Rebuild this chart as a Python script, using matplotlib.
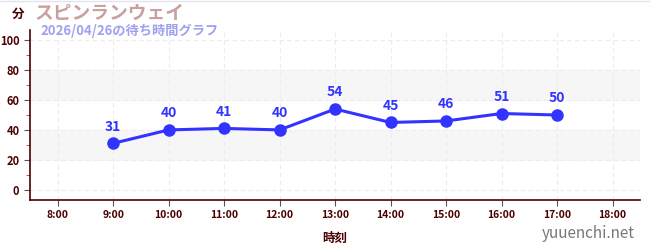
import matplotlib.pyplot as plt
import numpy as np

plt.rcParams['font.family'] = ['Noto Sans CJK JP', 'DejaVu Sans']

# --- datos ---
hours = [9, 10, 11, 12, 13, 14, 15, 16, 17]
waits = [31, 40, 41, 40, 54, 45, 46, 51, 50]
tick_hours = list(range(8, 19))
tick_labels = [f"{h}:00" for h in tick_hours]
title = "スピンランウェイ"
subtitle = "2026/04/26の待ち時間グラフ"

dark = "#4a0000"
blue = "#3333ff"

fig = plt.figure(figsize=(6.5, 2.5), dpi=100)
ax = fig.add_axes([0.046, 0.2, 0.939, 0.68])

# --- bandas y grilla ---
for lo, hi in [(20, 40), (60, 80)]:
    ax.axhspan(lo, hi, color="#f6f6f6", zorder=0)
for y in range(0, 101, 20):
    ax.axhline(y, color="#ececec", lw=0.8, ls=(0, (4, 3)), zorder=0.5)
for h in tick_hours:
    ax.axvline(h, color="#ececec", lw=0.8, ls=(0, (4, 3)), zorder=0.5)

# --- serie ---
ax.plot(hours, waits, color=blue, lw=2.2, marker="o", ms=8, zorder=3)
for h, w in zip(hours, waits):
    ax.annotate(str(w), (h, w), xytext=(0, 7), textcoords="offset points",
                ha="center", va="bottom", color=blue, fontsize=10,
                fontweight="bold")

ax.set_xlim(7.5, 18.5)
ax.set_ylim(-7, 107)
ax.set_xticks(tick_hours)
ax.set_xticklabels(tick_labels)
ax.set_yticks(range(0, 101, 20))
ax.set_yticks(range(10, 100, 20), minor=True)

ax.tick_params(axis="both", which="major", colors="#555555", labelcolor=dark,
               labelsize=8, length=4)
ax.tick_params(axis="y", which="minor", colors="#dd2222", length=3)
ax.tick_params(axis="x", labelsize=7.5)
for lab in ax.get_xticklabels() + ax.get_yticklabels():
    lab.set_fontweight("bold")

for s in ["top", "right"]:
    ax.spines[s].set_visible(False)
for s in ["left", "bottom"]:
    ax.spines[s].set_color(dark)
    ax.spines[s].set_linewidth(1.2)

ax.set_xlabel("時刻", color=dark, fontsize=9, fontweight="bold", labelpad=8)

# --- textos ---
fig.text(12 / 650, 1 - 14 / 250, "分", color=dark, fontsize=9,
         fontweight="bold", va="center")
fig.text(35 / 650, 1 - 13 / 250, title, color="#c9a0a0", fontsize=13.5,
         fontweight="bold", va="center")
fig.text(40 / 650, 1 - 31 / 250, subtitle, color="#a0a0f0", fontsize=9.5,
         fontweight="bold", va="center")
fig.text(635 / 650, 1 - 233 / 250, "yuuenchi.net", color="#777777",
         fontsize=11, ha="right", va="center")

fig.add_artist(plt.Line2D([0, 1], [0.998, 0.998], color="#e4e4f0", lw=1))

fig.savefig("out.png", dpi=100)
